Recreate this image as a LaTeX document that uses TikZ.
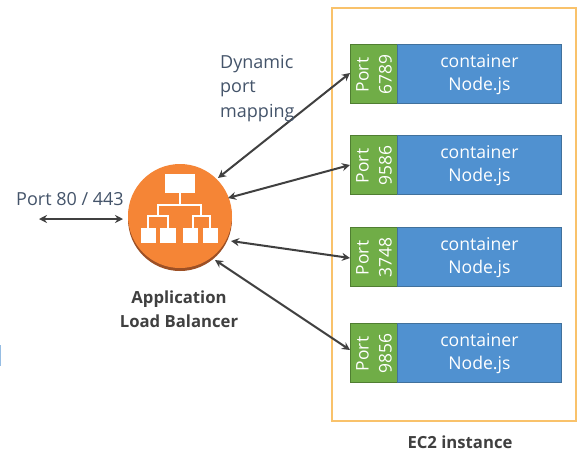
\documentclass[tikz,border=0pt]{standalone}
\usepackage{fontspec}
\setmainfont{Open Sans}
\usetikzlibrary{arrows.meta}
\definecolor{portgreen}{HTML}{70AD47}
\definecolor{portedge}{HTML}{507E32}
\definecolor{contblue}{HTML}{5091D0}
\definecolor{contedge}{HTML}{41719C}
\definecolor{ecborder}{HTML}{F9C26B}
\definecolor{lborange}{HTML}{F58536}
\definecolor{lbdark}{HTML}{9D5025}
\definecolor{arrowgray}{HTML}{404040}
\definecolor{labelgray}{HTML}{44546A}
\tikzset{
  x=1pt,y=-1pt,
  portbox/.style={draw=portedge,line width=0.8pt,fill=portgreen,minimum width=47pt,minimum height=59pt,inner sep=0pt,anchor=north west},
  contbox/.style={draw=contedge,line width=0.8pt,fill=contblue,minimum width=164pt,minimum height=59pt,inner sep=0pt,anchor=north west},
  conttext/.style={yshift=-1pt,text=white,align=center,font=\fontsize{17.6}{23}\selectfont,inner sep=0pt},
  porttext/.style={rotate=90,xshift=-1pt,text=white,align=center,font=\fontsize{17.4}{23}\selectfont,inner sep=0pt},
  link/.style={draw=arrowgray,line width=2pt,{Stealth[length=8pt,width=8pt]}-{Stealth[length=8pt,width=8pt]}},
  icon/.style={draw=white,line width=2.2pt},
  iconbox/.style={fill=white},
  lbl/.style={text=labelgray,font=\fontsize{18}{24.5}\selectfont,inner sep=0pt},
  boldlbl/.style={text=arrowgray,font=\fontsize{16.7}{24}\selectfont\bfseries,align=center,inner sep=0pt},
}
\begin{document}
\begin{tikzpicture}
\useasboundingbox (0,0) rectangle (586,461);
\fill[fill=white] (0,0) rectangle (586,461);
\fill[fill=contblue!60] (0,345) rectangle (1,366);
\node[draw=ecborder,line width=1.5pt,minimum width=244pt,minimum height=413pt,inner sep=0pt,anchor=north west] (ec2) at (331,7) {};
\node[boldlbl,anchor=center] (ec2label) at (460,442) {EC2 instance};

\node[portbox] (p1) at (350,44) {};
\node[contbox] (c1) at (397,44) {};
\node[conttext] (ct1) at (c1.center) {container\\Node.js};
\node[porttext] (pt1) at (p1.center) {Port\\6789};
\node[portbox] (p2) at (350,135) {};
\node[contbox] (c2) at (397,135) {};
\node[conttext] (ct2) at (c2.center) {container\\Node.js};
\node[porttext] (pt2) at (p2.center) {Port\\9586};
\node[portbox] (p3) at (350,227) {};
\node[contbox] (c3) at (397,227) {};
\node[conttext] (ct3) at (c3.center) {container\\Node.js};
\node[porttext] (pt3) at (p3.center) {Port\\3748};
\node[portbox] (p4) at (350,323) {};
\node[contbox] (c4) at (397,323) {};
\node[conttext] (ct4) at (c4.center) {container\\Node.js};
\node[porttext] (pt4) at (p4.center) {Port\\9856};

% load balancer
\fill[lbdark] (180,219) circle[radius=52];
\node[circle,fill=lborange,minimum size=104pt,inner sep=0pt] (lb) at (180,216) {};
\fill[iconbox] (165,174) rectangle (195,193);
\draw[icon] (180,193) -- (180,205);
\draw[icon] (148,228) -- (148,216) -- (168,216) -- (168,228);
\draw[icon] (193,228) -- (193,216) -- (210,216) -- (210,228);
\draw[icon] (158,216) -- (158,205) -- (201,205) -- (201,216);
\fill[iconbox] (141,228) rectangle (156,243);
\fill[iconbox] (160,228) rectangle (176,243);
\fill[iconbox] (183,228) rectangle (198,243);
\fill[iconbox] (203,228) rectangle (218,243);
\node[boldlbl] (lblabel) at (179,309) {Application\\Load Balancer};

\coordinate (a1) at (218,178); \coordinate (b1) at (350,73);
\coordinate (a2) at (228,198); \coordinate (b2) at (350,165);
\coordinate (a3) at (231,241); \coordinate (b3) at (350,258);
\coordinate (a4) at (215,260); \coordinate (b4) at (350,350);
\coordinate (w1) at (39,219); \coordinate (w2) at (123,219);
\draw[link] (a1) -- (b1);
\draw[link] (a2) -- (b2);
\draw[link] (a3) -- (b3);
\draw[link] (a4) -- (b4);
\draw[link] (w1) -- (w2);

\node[lbl,anchor=west] (plabel) at (16,199) {Port 80 / 443};
\node[lbl,anchor=north west,align=left] (dyn) at (220,55) {Dynamic\\port\\mapping};
\end{tikzpicture}
\end{document}
